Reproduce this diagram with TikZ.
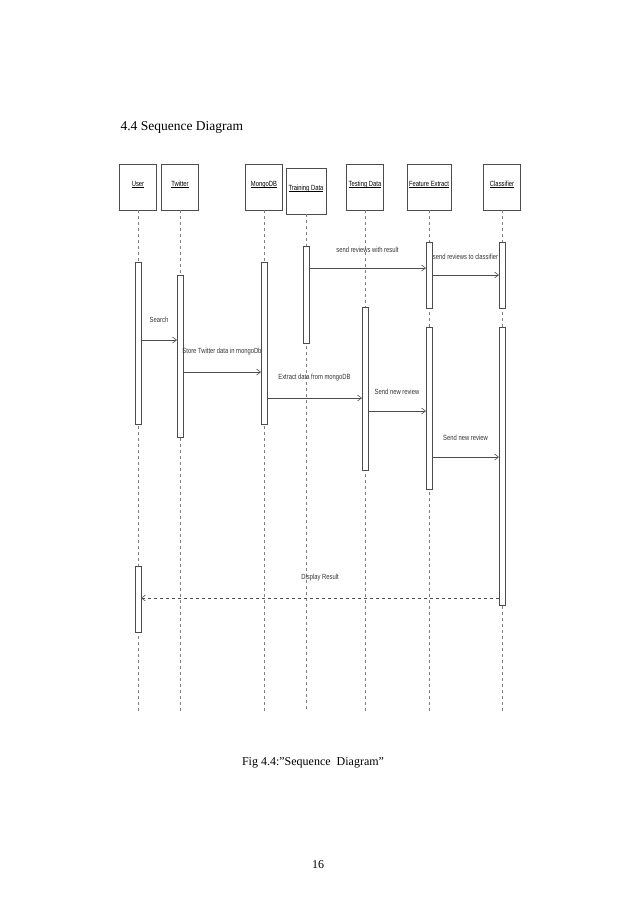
\documentclass[tikz,border=0pt]{standalone}
\usepackage{fontspec}
\usepackage{graphicx}
\setmainfont{Liberation Serif}
\newfontfamily\lblfont{Liberation Sans}
\usetikzlibrary{arrows.meta}
\newcommand\hl[1]{\scalebox{0.78}[1]{\underline{\smash{#1}}}}
\begin{document}
\begin{tikzpicture}[x=1pt,y=-1pt,
  head/.style={draw=black!70,line width=0.6pt,minimum width=37pt,minimum height=46pt,inner sep=1pt,font=\lblfont\fontsize{7.5}{8}\selectfont,fill=white},
  life/.style={draw=black!50,dashed,line width=0.5pt},
  act/.style={draw=black!70,fill=white,line width=0.6pt},
  msg/.style={draw=black!70,line width=0.6pt,-{Straight Barb[length=4pt,width=6pt]}},
  lbl/.style={font=\lblfont\fontsize{7.5}{8}\selectfont,text=black!80,xscale=0.78}]
\useasboundingbox (0,0) rectangle (638,903);
\node[anchor=west,font=\fontsize{13.5}{15}\selectfont] (title) at (117,127) {4.4 Sequence Diagram};
% heads
\node[head] (hU) at (138,187) {\hl{User}};
\node[head] (hT) at (180,187) {\hl{Twitter}};
\node[head] (hM) at (264,187) {\hl{MongoDB}};
\node[head,minimum width=40pt] (hR) at (306,191) {\hl{Training Data}};
\node[head] (hS) at (365,187) {\hl{Testing Data}};
\node[head,minimum width=44pt] (hF) at (429,187) {\hl{Feature Extract}};
\node[head] (hC) at (502,187) {\hl{Classifier}};
% lifelines
\foreach \n/\x in {hU/138,hT/180,hM/264,hR/306,hS/365,hF/429,hC/502}{
  \coordinate (e\n) at (\x,712);
  \draw[life] (\n.south) -- (e\n);
}
% activations
\newcommand\actbox[4]{\filldraw[act] (#1-3,#2) rectangle (#1+3,#3); \coordinate (#4) at (#1,#2);}
\actbox{138}{262}{424}{aU1}
\actbox{138}{566}{632}{aU2}
\actbox{180}{275}{437}{aT}
\actbox{264}{262}{424}{aM}
\actbox{306}{246}{343}{aR}
\actbox{365}{307}{470}{aS}
\actbox{429}{242}{308}{aF1}
\actbox{429}{327}{489}{aF2}
\actbox{502}{242}{308}{aC1}
\actbox{502}{327}{605}{aC2}
% messages
\coordinate (m1a) at (309,268); \coordinate (m1b) at (426,268);
\draw[msg] (m1a) -- node[lbl,above=12pt]{send reviews with result} (m1b);
\coordinate (m2a) at (432,275); \coordinate (m2b) at (499,275);
\draw[msg] (m2a) -- node[lbl,above=12pt]{send reviews to classifier} (m2b);
\coordinate (m3a) at (141,340); \coordinate (m3b) at (177,340);
\draw[msg] (m3a) -- node[lbl,above=14pt]{Search} (m3b);
\coordinate (m4a) at (183,372); \coordinate (m4b) at (261,372);
\draw[msg] (m4a) -- node[lbl,above=13pt]{Store Twitter data in mongoDb} (m4b);
\coordinate (m5a) at (267,398); \coordinate (m5b) at (362,398);
\draw[msg] (m5a) -- node[lbl,above=13pt]{Extract data from mongoDB} (m5b);
\coordinate (m6a) at (368,411); \coordinate (m6b) at (426,411);
\draw[msg] (m6a) -- node[lbl,above=13pt]{Send new review} (m6b);
\coordinate (m7a) at (432,457); \coordinate (m7b) at (499,457);
\draw[msg] (m7a) -- node[lbl,above=13pt]{Send new review} (m7b);
\coordinate (m8a) at (499,598); \coordinate (m8b) at (141,598);
\draw[msg,dashed] (m8a) -- node[lbl,above=13pt]{Display Result} (m8b);
% caption
\node[font=\fontsize{12}{14}\selectfont] (cap) at (313,763) {Fig 4.4:"Sequence\ \ Diagram"};
\node[font=\fontsize{12}{14}\selectfont] (pg) at (318,865) {16};
\end{tikzpicture}
\end{document}
